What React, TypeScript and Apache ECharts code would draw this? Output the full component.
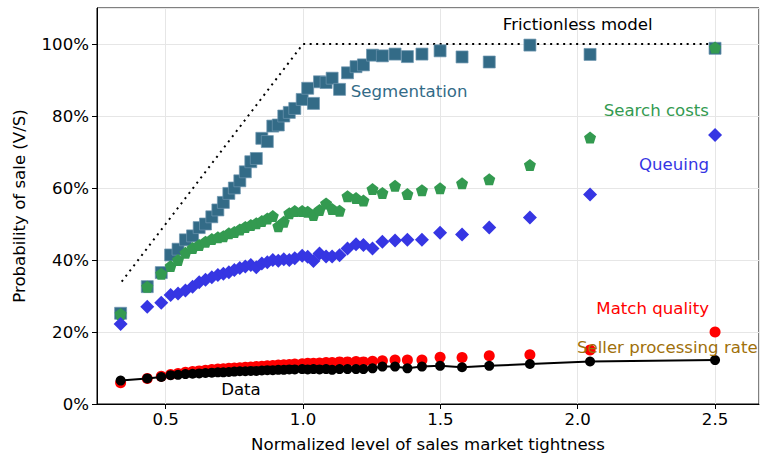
import { useEffect, useRef } from "react";
import * as echarts from "echarts";

// Normalized level of sales market tightness (one entry per market)
const markets = [0.336, 0.433, 0.484, 0.518, 0.545, 0.572, 0.598, 0.622, 0.645, 0.668, 0.69, 0.71, 0.73, 0.75, 0.77, 0.79, 0.81, 0.83, 0.85, 0.87, 0.89, 0.91, 0.93, 0.95, 0.97, 0.997, 1.017, 1.038, 1.06, 1.084, 1.106, 1.133, 1.162, 1.193, 1.22, 1.253, 1.289, 1.335, 1.38, 1.433, 1.499, 1.579, 1.678, 1.826, 2.045, 2.5];

const segmentation = [0.252, 0.326, 0.365, 0.414, 0.43, 0.456, 0.467, 0.49, 0.5, 0.52, 0.539, 0.56, 0.585, 0.6, 0.62, 0.645, 0.673, 0.682, 0.738, 0.729, 0.772, 0.775, 0.8, 0.81, 0.821, 0.846, 0.877, 0.835, 0.895, 0.893, 0.905, 0.874, 0.92, 0.937, 0.942, 0.969, 0.967, 0.972, 0.965, 0.972, 0.981, 0.964, 0.95, 0.997, 0.971, 0.988];

const searchCosts = [0.25, 0.326, 0.362, 0.383, 0.4, 0.42, 0.433, 0.442, 0.451, 0.458, 0.463, 0.466, 0.474, 0.478, 0.485, 0.492, 0.497, 0.502, 0.508, 0.515, 0.522, 0.494, 0.506, 0.53, 0.536, 0.536, 0.534, 0.525, 0.539, 0.557, 0.542, 0.537, 0.577, 0.572, 0.565, 0.597, 0.586, 0.606, 0.583, 0.594, 0.599, 0.613, 0.624, 0.664, 0.74, 0.99];

const queuing = [0.222, 0.27, 0.281, 0.303, 0.307, 0.315, 0.326, 0.338, 0.345, 0.352, 0.358, 0.362, 0.366, 0.372, 0.378, 0.382, 0.386, 0.38, 0.39, 0.394, 0.4, 0.398, 0.402, 0.4, 0.405, 0.412, 0.409, 0.397, 0.418, 0.41, 0.41, 0.413, 0.432, 0.444, 0.442, 0.432, 0.451, 0.454, 0.456, 0.456, 0.476, 0.471, 0.49, 0.518, 0.582, 0.747];

const matchQuality = [0.059, 0.071, 0.077, 0.082, 0.085, 0.088, 0.09, 0.092, 0.094, 0.096, 0.097, 0.098, 0.099, 0.1, 0.101, 0.102, 0.103, 0.104, 0.105, 0.106, 0.107, 0.108, 0.109, 0.11, 0.111, 0.112, 0.113, 0.113, 0.114, 0.115, 0.115, 0.117, 0.117, 0.118, 0.117, 0.119, 0.12, 0.122, 0.122, 0.122, 0.13, 0.129, 0.134, 0.137, 0.15, 0.2];

const observed = [0.065, 0.071, 0.075, 0.08, 0.081, 0.083, 0.084, 0.085, 0.086, 0.087, 0.088, 0.088, 0.089, 0.09, 0.091, 0.091, 0.092, 0.092, 0.093, 0.094, 0.094, 0.095, 0.095, 0.096, 0.096, 0.097, 0.096, 0.097, 0.096, 0.097, 0.095, 0.097, 0.097, 0.097, 0.097, 0.099, 0.104, 0.104, 0.099, 0.104, 0.106, 0.102, 0.106, 0.111, 0.118, 0.122];

const frictionlessX = [0.34, 1.0, 2.5];
const frictionlessY = [0.34, 1.0, 1.0];

const FONT = "DejaVu Sans";
const FS = 16.6;

const annotations = [
  { text: "Frictionless model", at: [2.0, 1.053], color: "#000000", align: "center" },
  { text: "Segmentation", at: [1.174, 0.867], color: "#336b87", align: "left" },
  { text: "Search costs", at: [2.478, 0.814], color: "#339a50", align: "right" },
  { text: "Queuing", at: [2.478, 0.664], color: "#3636e3", align: "right" },
  { text: "Match quality", at: [2.478, 0.264], color: "#ff0000", align: "right" },
  { text: "Seller processing rate", at: [2.655, 0.158], color: "#a0700b", align: "right" },
  { text: "Data", at: [0.702, 0.039], color: "#000000", align: "left" },
];

const pentagon = "path://M0,-10 L9.51,-3.09 L5.88,8.09 L-5.88,8.09 L-9.51,-3.09 Z";

function pairs(ys: number[]) {
  return markets.map((x, i) => [x, ys[i]]);
}

export default function App() {
  const ref = useRef<HTMLDivElement>(null);
  useEffect(() => {
    if (!ref.current) return;
    const chart = echarts.init(ref.current, undefined, { renderer: "svg" });
    chart.setOption({
      animation: false,
      textStyle: { fontFamily: FONT },
      grid: { left: 97, right: 2, top: 8, bottom: 56, show: true, borderColor: "#000", borderWidth: 1, backgroundColor: "transparent" },
      xAxis: {
        type: "value",
        min: 0.25,
        max: 2.66,
        splitNumber: 5,
        name: "Normalized level of sales market tightness",
        nameLocation: "middle",
        nameGap: 32,
        nameTextStyle: { fontSize: FS, color: "#000", fontFamily: FONT },
        axisLine: { show: true, lineStyle: { color: "#000", width: 1 } },
        axisTick: { show: true, inside: false, length: 5, lineStyle: { color: "#000" } },
        axisLabel: { fontSize: FS, color: "#000", fontFamily: FONT, margin: 7, showMinLabel: false, showMaxLabel: false, formatter: (v: number) => v.toFixed(1) },
        splitLine: { show: true, lineStyle: { color: "#e6e6e6", width: 1 } },
      },
      yAxis: {
        type: "value",
        min: 0,
        max: 1.1,
        interval: 0.2,
        name: "Probability of sale (V/S)",
        nameLocation: "middle",
        nameGap: 69,
        nameTextStyle: { fontSize: FS, color: "#000", fontFamily: FONT },
        axisLine: { show: true, lineStyle: { color: "#000", width: 1 } },
        axisTick: { show: true, inside: false, length: 5, lineStyle: { color: "#000" } },
        axisLabel: { fontSize: FS, color: "#000", fontFamily: FONT, margin: 8, showMaxLabel: false, formatter: (v: number) => `${Math.round(v * 100)}%` },
        splitLine: { show: true, lineStyle: { color: "#e6e6e6", width: 1 } },
      },
      series: [
        {
          name: "Frictionless model",
          type: "line",
          data: frictionlessX.map((x, i) => [x, frictionlessY[i]]),
          symbol: "none",
          lineStyle: { color: "#000", width: 2, type: [2, 4.5] },
          z: 1,
        },
        {
          name: "Segmentation",
          type: "scatter",
          data: pairs(segmentation),
          symbol: "rect",
          symbolSize: 12,
          itemStyle: { color: "#336b87", borderColor: "rgba(110,150,175,0.7)", borderWidth: 1, opacity: 1 },
          z: 2,
        },
        {
          name: "Search costs",
          type: "scatter",
          data: pairs(searchCosts),
          symbol: pentagon,
          symbolSize: 12,
          itemStyle: { color: "#339a50", opacity: 1 },
          z: 3,
        },
        {
          name: "Queuing",
          type: "scatter",
          data: pairs(queuing),
          symbol: "diamond",
          symbolSize: 14,
          itemStyle: { color: "#3636e3", opacity: 1 },
          z: 4,
        },
        {
          name: "Match quality",
          type: "scatter",
          data: pairs(matchQuality),
          symbol: "circle",
          symbolSize: 11,
          itemStyle: { color: "#ff0000", opacity: 1 },
          z: 5,
        },
        {
          name: "Data",
          type: "line",
          data: pairs(observed),
          symbol: "circle",
          symbolSize: 10,
          showSymbol: true,
          itemStyle: { color: "#000", opacity: 1 },
          lineStyle: { color: "#000", width: 2 },
          z: 6,
        },
      ],
    });
    const graphic = annotations.map((a) => {
      const p = chart.convertToPixel({ xAxisIndex: 0, yAxisIndex: 0 }, a.at) as number[];
      return {
        type: "text",
        x: p[0],
        y: p[1],
        z: 100,
        style: { text: a.text, fill: a.color, font: `${FS}px "${FONT}"`, align: a.align, verticalAlign: "middle" },
      };
    });
    chart.setOption({ graphic });
    return () => chart.dispose();
  }, []);
  return <div ref={ref} style={{ width: 761, height: 460, position: "absolute", left: 0, top: 0 }} />;
}
